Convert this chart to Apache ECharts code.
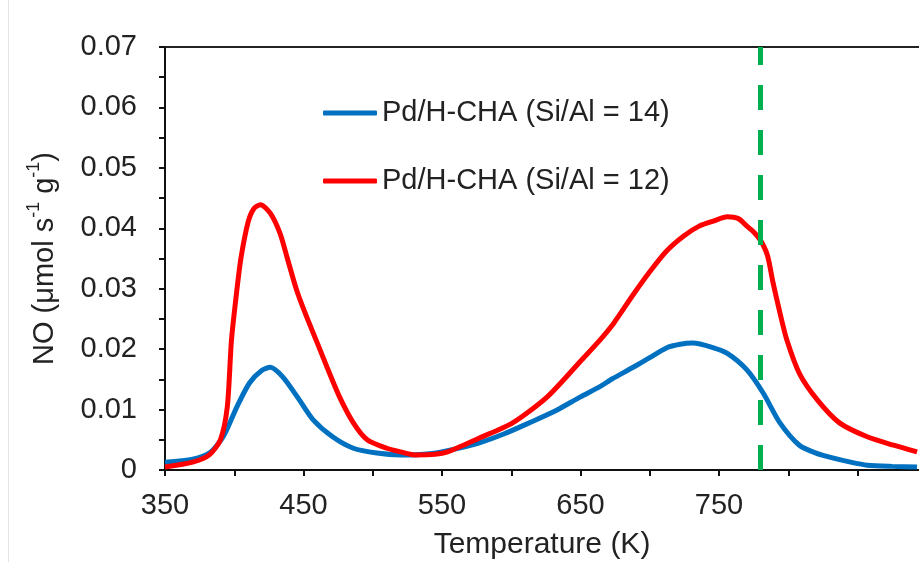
<!DOCTYPE html>
<html>
<head>
<meta charset="utf-8">
<script src="https://cdn.jsdelivr.net/npm/echarts@6/dist/echarts.min.js"></script>
<style>
  html, body { margin: 0; padding: 0; background: #fff; }
  #chart { width: 919px; height: 562px; }
</style>
</head>
<body>
<div id="chart"></div>
<script>
// NO desorption profiles (TPD) for two Pd/H-CHA samples
const xTickLabels = [350, 450, 550, 650, 750];
const yTickLabels = [0, 0.01, 0.02, 0.03, 0.04, 0.05, 0.06, 0.07];

const seriesNames = ['Pd/H-CHA (Si/Al = 14)', 'Pd/H-CHA (Si/Al = 12)'];

const tempSi14 = [350, 370, 382, 392, 402, 411, 420, 426, 435, 447, 457, 471, 486, 503, 520, 541, 560, 577, 595, 613, 632, 650, 664, 673, 688, 700, 712, 722, 731, 745, 756, 770, 782, 794, 808, 820, 832, 845, 857, 875, 893];
const noSi14 = [0.0013, 0.0018, 0.0028, 0.0055, 0.0105, 0.0144, 0.0165, 0.017, 0.0154, 0.0116, 0.0083, 0.0055, 0.0036, 0.0028, 0.0025, 0.0027, 0.0035, 0.0045, 0.006, 0.0078, 0.0098, 0.0121, 0.0138, 0.0151, 0.017, 0.0186, 0.0202, 0.0208, 0.021, 0.0203, 0.0193, 0.0166, 0.0127, 0.0078, 0.0041, 0.0028, 0.002, 0.0013, 0.0008, 0.0006, 0.0005];

const tempSi12 = [350, 370, 382, 390, 395, 398, 402, 405, 410, 414, 419, 426, 433, 438, 445, 452, 460, 467, 476, 486, 496, 510, 520, 530, 545, 554, 577, 601, 626, 650, 664, 674, 688, 700, 712, 725, 736, 746, 756, 764, 770, 775, 780, 785, 789, 794, 799, 808, 821, 837, 857, 876, 893];
const noSi12 = [0.0005, 0.0013, 0.0025, 0.005, 0.0105, 0.0215, 0.030, 0.0353, 0.041, 0.0432, 0.0439, 0.0425, 0.0392, 0.0353, 0.0298, 0.0255, 0.021, 0.017, 0.0121, 0.0078, 0.005, 0.0036, 0.003, 0.0025, 0.0026, 0.003, 0.0053, 0.0078, 0.0121, 0.018, 0.0215, 0.0243, 0.029, 0.0328, 0.0362, 0.0388, 0.0404, 0.0412, 0.0419, 0.0416, 0.0404, 0.0394, 0.038, 0.0355, 0.031, 0.026, 0.0215, 0.016, 0.0116, 0.0078, 0.0055, 0.0041, 0.003];

// reference temperature marked by the dashed line
const markerTemp = 780;

const xMin = 350, xMax = 894.4, yMin = 0, yMax = 0.07;

const pairs = (xs, ys) => xs.map((x, i) => [x, ys[i]]);

const FONT = 'Liberation Sans, Arial, sans-serif';
const TXT = '#222222';

const chart = echarts.init(document.getElementById('chart'), null, { renderer: 'canvas' });

chart.setOption({
  backgroundColor: '#ffffff',
  animation: false,
  textStyle: { fontFamily: FONT },
  grid: { left: 165, top: 47, right: 0, bottom: 92, containLabel: false, outerBoundsMode: 'none' },
  legend: {
    orient: 'vertical',
    left: 318,
    top: 93,
    itemWidth: 54,
    itemHeight: 5,
    itemGap: 38,
    icon: 'roundRect',
    data: seriesNames,
    textStyle: { fontFamily: FONT, fontSize: 29, lineHeight: 30, color: TXT }
  },
  xAxis: [{
    type: 'value',
    min: xMin,
    max: xMax,
    interval: 50,
    name: 'Temperature (K)',
    nameLocation: 'middle',
    nameGap: 60,
    nameTextStyle: { fontFamily: FONT, fontSize: 30, color: TXT },
    axisLine: { show: true, onZero: false, lineStyle: { color: '#111', width: 2 } },
    axisTick: { show: true, inside: false, length: 6, lineStyle: { color: '#111', width: 2 } },
    axisLabel: {
      fontFamily: FONT, fontSize: 29, color: TXT, margin: 21,
      showMaxLabel: false,
      formatter: v => (xTickLabels.indexOf(v) >= 0 ? String(v) : '')
    },
    splitLine: { show: false }
  }, {
    type: 'value',
    position: 'top',
    min: xMin,
    max: xMax,
    axisLine: { show: true, onZero: false, lineStyle: { color: '#222', width: 2 } },
    axisTick: { show: false },
    axisLabel: { show: false },
    splitLine: { show: false }
  }],
  yAxis: {
    type: 'value',
    min: yMin,
    max: yMax,
    interval: 0.01,
    name: '{m|NO (μmol s}{s|-1}{m| g}{s|-1}{m|)}',
    nameLocation: 'middle',
    nameGap: 106,
    nameRotate: 90,
    nameTextStyle: {
      rich: {
        m: { fontFamily: FONT, fontSize: 29, color: TXT, lineHeight: 34, verticalAlign: 'bottom' },
        s: { fontFamily: FONT, fontSize: 18, color: TXT, lineHeight: 34, verticalAlign: 'top' }
      }
    },
    axisLine: { show: true, onZero: false, lineStyle: { color: '#111', width: 2 } },
    axisTick: { show: true, inside: false, length: 6, lineStyle: { color: '#111', width: 2 } },
    minorTick: { show: true, splitNumber: 2, length: 6, lineStyle: { color: '#111', width: 2 } },
    axisLabel: {
      fontFamily: FONT, fontSize: 29, color: TXT, margin: 28,
      formatter: v => {
        const hit = yTickLabels.find(t => Math.abs(t - v) < 1e-9);
        return hit === undefined ? '' : (hit === 0 ? '0' : hit.toFixed(2));
      }
    },
    splitLine: { show: false }
  },
  series: [
    {
      name: seriesNames[0],
      type: 'line',
      data: pairs(tempSi14, noSi14),
      smooth: 0.25,
      showSymbol: false,
      symbol: 'none',
      color: '#0070c0',
      lineStyle: { color: '#0070c0', width: 5 },
      z: 3
    },
    {
      name: seriesNames[1],
      type: 'line',
      data: pairs(tempSi12, noSi12),
      smooth: 0.25,
      showSymbol: false,
      symbol: 'none',
      color: '#ff0000',
      lineStyle: { color: '#ff0000', width: 5 },
      z: 4,
      markLine: {
        silent: true,
        symbol: ['none', 'none'],
        label: { show: false },
        lineStyle: { color: '#00b050', width: 5, type: [25, 20], opacity: 1 },
        data: [[{ coord: [markerTemp, yMin] }, { coord: [markerTemp, yMax] }]],
        z: 5
      }
    }
  ],
  graphic: [{
    type: 'line',
    shape: { x1: 8.5, y1: 0, x2: 8.5, y2: 562 },
    style: { stroke: '#e4e4e4', lineWidth: 1 },
    silent: true
  }]
});
</script>
</body>
</html>
